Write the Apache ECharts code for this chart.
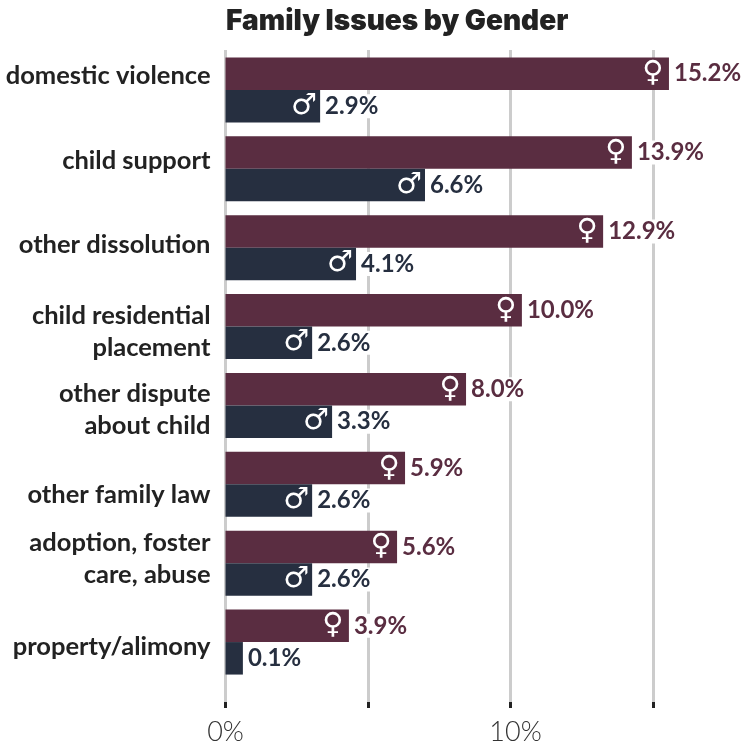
<!DOCTYPE html>
<html><head><meta charset="utf-8">
<style>html,body{margin:0;padding:0;background:#fff}#c{width:747px;height:748px}</style>
<script src="https://cdn.jsdelivr.net/npm/echarts@6/dist/echarts.min.js"></script>
</head><body><div id="c"></div>
<script>
const categories = ['domestic violence','child support','other dissolution','child residential\nplacement','other dispute\nabout child','other family law','adoption, foster\ncare, abuse','property/alimony'];
const femaleLabels = ['15.2%','13.9%','12.9%','10.0%','8.0%','5.9%','5.6%','3.9%'];
const maleLabels = ['2.9%','6.6%','4.1%','2.6%','3.3%','2.6%','2.6%','0.1%'];
// drawn bar lengths as read against the axis (the reference bars run a little past their printed value)
const femaleBars = [15.56,14.26,13.25,10.4,8.44,6.3,6.02,4.33];
const maleBars = [3.32,7.0,4.58,3.04,3.74,3.04,3.04,0.61];
const xTicks = {0:'{a|0%}',10:'{b|10%}'};
// vertical nudges of the category labels, px (+ = down)
const labelShift = [0,3,6,11,7,11,-7,0];

const F='Lato, "Open Sans", sans-serif', G='"DejaVu Sans"';
const FEM='#5a2d41', MAL='#262f40';
const L=225.5;
function lab(color,glyph,texts,gw){
  return {show:true,position:'right',offset:[-gw,0],
    formatter:p=>{
      const small=parseFloat(texts[p.dataIndex])<1;
      return `{g|${small?'':glyph}}{s|}{v|${texts[p.dataIndex]}}`;
    },
    rich:{g:{fontFamily:G,fontSize:29,color:'#fff',width:gw-6,align:'right'},
          s:{width:6},
          v:{fontFamily:F,fontSize:24,fontWeight:700,color:color,backgroundColor:'#fff'}}};
}
const catRich={t:{fontFamily:F,fontSize:25.5,fontWeight:700,color:'#222',lineHeight:32,align:'right'}};
labelShift.forEach((s,i)=>{const h=Math.abs(s)*2;catRich['sp'+i]={fontSize:1,height:h,lineHeight:h};});
function catLabel(v,i){
  const s=labelShift[i];
  const body=v.split('\n').map(t=>`{t|${t}}`).join('\n');
  if(!s) return body;
  return s>0?`{sp${i}| }\n${body}`:`${body}\n{sp${i}| }`;
}
const chart=echarts.init(document.getElementById('c'),null,{renderer:'canvas'});
chart.setOption({
  animation:false,
  backgroundColor:'#fff',
  title:{text:'Family Issues by Gender',left:226,top:8,padding:0,textStyle:{fontFamily:'Inter, '+F,fontSize:28,fontWeight:900,color:'#222'}},
  grid:[
    {left:L,width:427.5,top:50,height:652},
    {left:L,width:513,top:50.5,height:631},
    {left:L,width:513,top:35,height:653}
  ],
  xAxis:[
    {type:'value',gridIndex:0,min:0,max:15,interval:5,axisLine:{show:false},
     axisTick:{show:true,length:6,lineStyle:{color:'#222',width:3}},
     splitLine:{show:true,lineStyle:{color:'#ccc',width:3}},
     axisLabel:{margin:17,fontFamily:F,fontSize:28,fontWeight:300,color:'#333',formatter:v=>xTicks[v]||'',
       rich:{a:{fontFamily:F,fontSize:27,fontWeight:300,color:'#333'},
             b:{fontFamily:F,fontSize:27,fontWeight:300,color:'#333',padding:[0,0,0,10]}}}},
    {type:'value',gridIndex:1,min:0,max:18,show:false},
    {type:'value',gridIndex:2,min:0,max:18,show:false}
  ],
  yAxis:[
    {type:'category',gridIndex:0,data:categories,inverse:true,show:false},
    {type:'category',gridIndex:1,data:categories,inverse:true,show:false},
    {type:'category',gridIndex:2,data:categories,inverse:true,axisLine:{show:false},axisTick:{show:false},
     axisLabel:{interval:0,margin:15,align:'right',formatter:catLabel,rich:catRich}}
  ],
  series:[
    {name:'female',type:'bar',xAxisIndex:1,yAxisIndex:1,data:femaleBars,barWidth:32.5,barGap:'0%',
     itemStyle:{color:FEM},z:3,label:lab(FEM,'♀',femaleLabels,36)},
    {name:'male',type:'bar',xAxisIndex:1,yAxisIndex:1,data:maleBars,barWidth:32.5,barGap:'0%',
     itemStyle:{color:MAL},z:3,label:lab(MAL,'♂',maleLabels,36)}
  ]
});
</script></body></html>
